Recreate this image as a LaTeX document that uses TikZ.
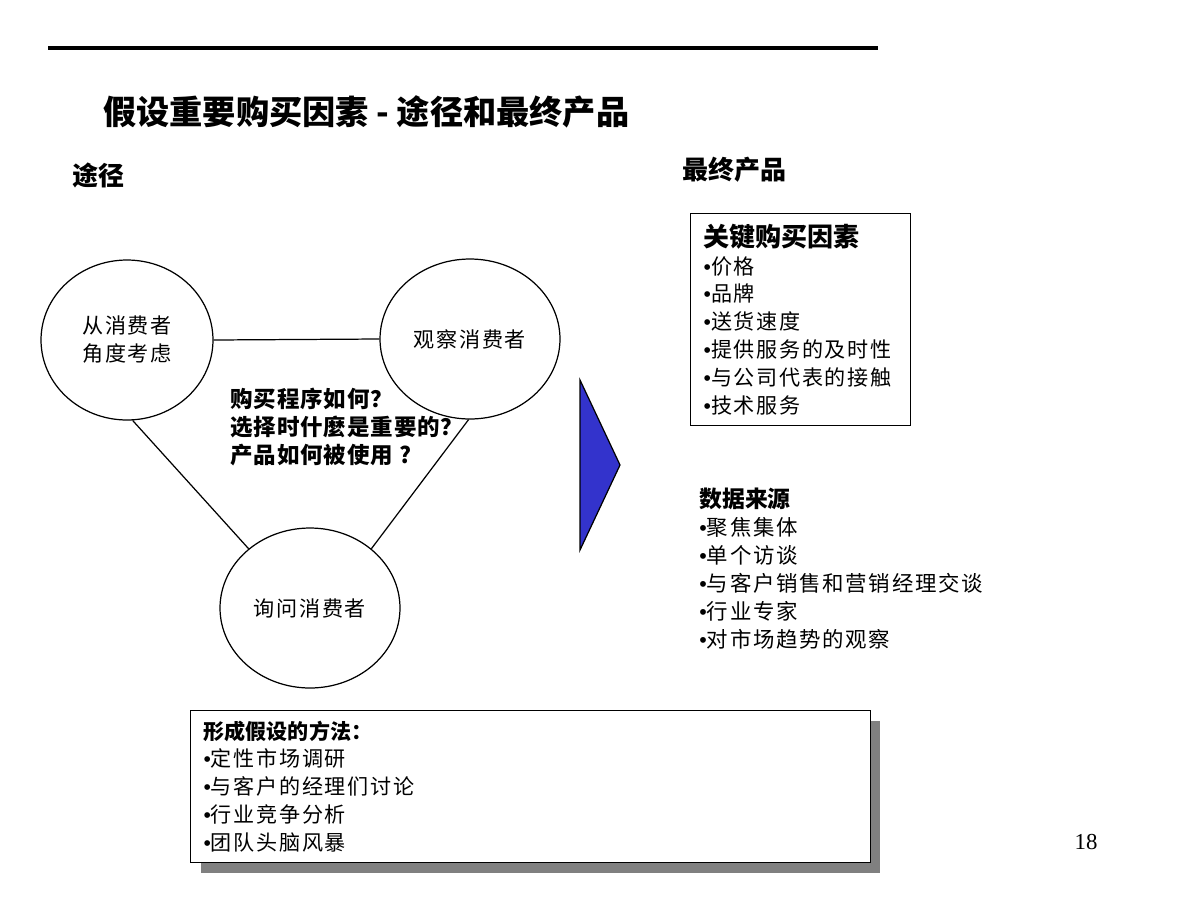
\documentclass[tikz,border=0pt]{standalone}
\usepackage{fontspec}
\setmainfont{Noto Sans CJK SC}
\newfontfamily\bodyfont{Noto Sans CJK SC}[LetterSpace=8]
\newfontfamily\askfont{Noto Sans CJK SC}[LetterSpace=4]
\newfontfamily\numfont{Liberation Serif}
\newfontfamily\dotfont{Liberation Sans}
\newcommand\itm{{\dotfont •}}
\usetikzlibrary{shapes.geometric,shadows}

\definecolor{arrowblue}{RGB}{51,51,204}

\tikzset{
  view/.style={draw=black, line width=0.7pt, ellipse, minimum width=3.44cm,
    minimum height=3.2cm, align=center, font=\bodyfont\fontsize{12}{15.9}\selectfont},
  link/.style={draw=black, line width=0.7pt},
  listbox/.style={draw=black, line width=0.7pt, fill=white, anchor=north west,
    align=left, inner xsep=0.26cm, font=\bodyfont\fontsize{12}{15.9}\selectfont},
  heading/.style={anchor=west, inner sep=0pt, font=\fontsize{14.8}{18}\selectfont\bfseries},
}

\begin{document}
\begin{tikzpicture}[x=0.02cm,y=-0.02cm]
  \useasboundingbox (0,0) rectangle (1200,900);
  % top rule and headings
  \coordinate (ruleL) at (48,48);
  \coordinate (ruleR) at (878,48);
  \draw[line width=2.2pt] (ruleL) -- (ruleR);
  \node[heading, font=\fontsize{18.9}{22}\selectfont\bfseries] (title) at (103,112) {假设重要购买因素 - 途径和最终产品};
  \node[heading] (way) at (72,175) {途径};
  \node[heading] (result) at (682,170) {最终产品};

  % the three ways
  \node[view] (consumer) at (127,340) {从消费者\\角度考虑};
  \node[view, minimum width=3.6cm] (observe) at (470,339) {观察消费者};
  \node[view, minimum width=3.6cm] (ask) at (310,608) {询问消费者};
  \draw[link] (consumer.east) -- (observe.west);
  \draw[link] (consumer.-86) -- (ask.136);
  \draw[link] (observe.-91) -- (ask.44);
  \node[anchor=north west, align=left, inner sep=0pt,
    font=\askfont\fontsize{12.8}{15.9}\selectfont\bfseries] (questions) at (230,388)
    {购买程序如何？\\选择时什麼是重要的？\\产品如何被使用 ?};

  % arrow
  \coordinate (tipA) at (580,380);
  \coordinate (tipB) at (620,465);
  \coordinate (tipC) at (580,550);
  \filldraw[fill=arrowblue, draw=black, line width=0.7pt] (tipA) -- (tipB) -- (tipC) -- cycle;

  % end products
  \node[listbox, text width=3.88cm, minimum height=4.24cm] (factors) at (690,213)
    {{\normalfont\fontsize{14.8}{15.9}\selectfont\bfseries 关键购买因素}\\\itm 价格\\\itm 品牌\\\itm 送货速度\\\itm 提供服务的及时性\\\itm 与公司代表的接触\\\itm 技术服务};
  \node[anchor=north west, align=left, inner sep=0pt,
    font=\bodyfont\fontsize{12.2}{15.9}\selectfont] (sources) at (699,488)
    {{\normalfont\fontsize{13}{15.9}\selectfont\bfseries 数据来源}\\\itm 聚焦集体\\\itm 单个访谈\\\itm 与客户销售和营销经理交谈\\\itm 行业专家\\\itm 对市场趋势的观察};

  % methods
  \node[listbox, text width=13.08cm, minimum height=3.04cm,
    drop shadow={shadow xshift=0.2cm, shadow yshift=-0.2cm, fill=gray, opacity=1}] (methods) at (190,710)
    {{\normalfont\fontsize{12}{15.9}\selectfont\bfseries 形成假设的方法：}\\\itm 定性市场调研\\\itm 与客户的经理们讨论\\\itm 行业竞争分析\\\itm 团队头脑风暴};

  \node[font=\numfont\fontsize{13}{15}\selectfont] (page) at (1086,842) {18};
\end{tikzpicture}
\end{document}
